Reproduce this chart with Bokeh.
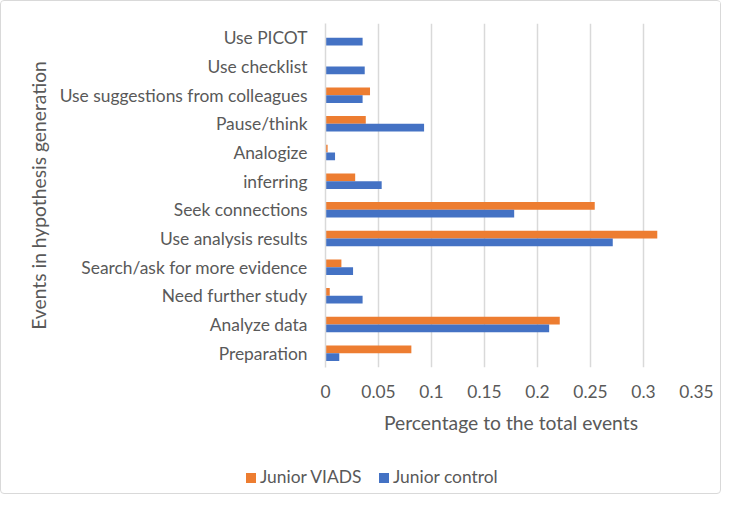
from bokeh.plotting import figure
from bokeh.models import ColumnDataSource, FactorRange, Range1d, FixedTicker, Div
from bokeh.transform import dodge
from bokeh.layouts import column
from bokeh.embed import file_html
from bokeh.resources import INLINE

categories = ["Preparation", "Analyze data", "Need further study", "Search/ask for more evidence",
              "Use analysis results", "Seek connections", "inferring", "Analogize", "Pause/think",
              "Use suggestions from colleagues", "Use checklist", "Use PICOT"]
junior_viads = [0.081, 0.221, 0.004, 0.015, 0.313, 0.254, 0.028, 0.002, 0.038, 0.042, 0.0, 0.0]
junior_control = [0.013, 0.211, 0.035, 0.026, 0.271, 0.178, 0.053, 0.009, 0.093, 0.035, 0.037, 0.035]
series_names = ["Junior VIADS", "Junior control"]
tick_values = [0, 0.05, 0.1, 0.15, 0.2, 0.25, 0.3, 0.35]
tick_labels = ["0", "0.05", "0.1", "0.15", "0.2", "0.25", "0.3", "0.35"]

FONT = "Lato"
GRAY = "#595959"
ORANGE = "#ED7D31"
BLUE = "#4472C4"

src = ColumnDataSource(dict(cat=categories, viads=junior_viads, control=junior_control))

p = figure(width=719, height=450, y_range=FactorRange(factors=categories, range_padding=0),
           x_range=Range1d(0, 0.35), output_backend="svg", toolbar_location=None,
           min_border_left=324, min_border_right=24, min_border_top=22, min_border_bottom=84)

p.hbar(y=dodge("cat", 0.135, range=p.y_range), left=0, right="viads", height=0.27,
       source=src, fill_color=ORANGE, line_color=None)
p.hbar(y=dodge("cat", -0.135, range=p.y_range), left=0, right="control", height=0.27,
       source=src, fill_color=BLUE, line_color=None)

p.outline_line_color = None
p.background_fill_color = "white"
p.border_fill_color = "white"

p.xaxis.ticker = FixedTicker(ticks=tick_values)
p.xaxis.major_label_overrides = {v: l for v, l in zip(tick_values, tick_labels)}
p.xaxis.axis_line_color = None
p.xaxis.major_tick_line_color = None
p.xaxis.minor_tick_line_color = None
p.xaxis.major_label_standoff = 11
p.xaxis.axis_label = "Percentage to the total events"
p.xaxis.axis_label_standoff = 10

p.yaxis.axis_line_color = "#D9D9D9"
p.yaxis.axis_line_width = 1.5
p.yaxis.major_tick_line_color = None
p.yaxis.minor_tick_line_color = None
p.yaxis.major_label_standoff = 12
p.yaxis.axis_label = "Events in hypothesis generation"
p.yaxis.axis_label_standoff = 7

for ax in (p.xaxis, p.yaxis):
    ax.major_label_text_font = FONT
    ax.major_label_text_font_size = "17.4px"
    ax.major_label_text_color = GRAY
    ax.axis_label_text_font = FONT
    ax.axis_label_text_font_size = "19.3px"
    ax.axis_label_text_font_style = "normal"
    ax.axis_label_text_color = GRAY

p.xgrid.grid_line_color = "#D9D9D9"
p.xgrid.grid_line_width = 1.5
p.ygrid.grid_line_color = None

# legend strip below the chart
def legend_entry(left, color, label):
    return (f'<span style="position:absolute;left:{left}px;top:22px;width:10px;height:10px;'
            f'background:{color};"></span>'
            f'<span style="position:absolute;left:{left + 14}px;top:16px;line-height:20px;'
            f'white-space:nowrap;">{label}</span>')

legend_html = ('<div style="position:relative;width:719px;height:42px;'
               f'font-family:{FONT};font-size:17.4px;color:{GRAY};">'
               + legend_entry(245, ORANGE, series_names[0])
               + legend_entry(378, BLUE, series_names[1])
               + '</div>')
legend_div = Div(text=legend_html, width=719, height=42, margin=0)

layout = column(p, legend_div, spacing=0)
layout.styles = {"border": "1px solid #D9D9D9", "border-radius": "4px", "background": "white"}
open("out.html", "w").write(file_html(layout, INLINE))
